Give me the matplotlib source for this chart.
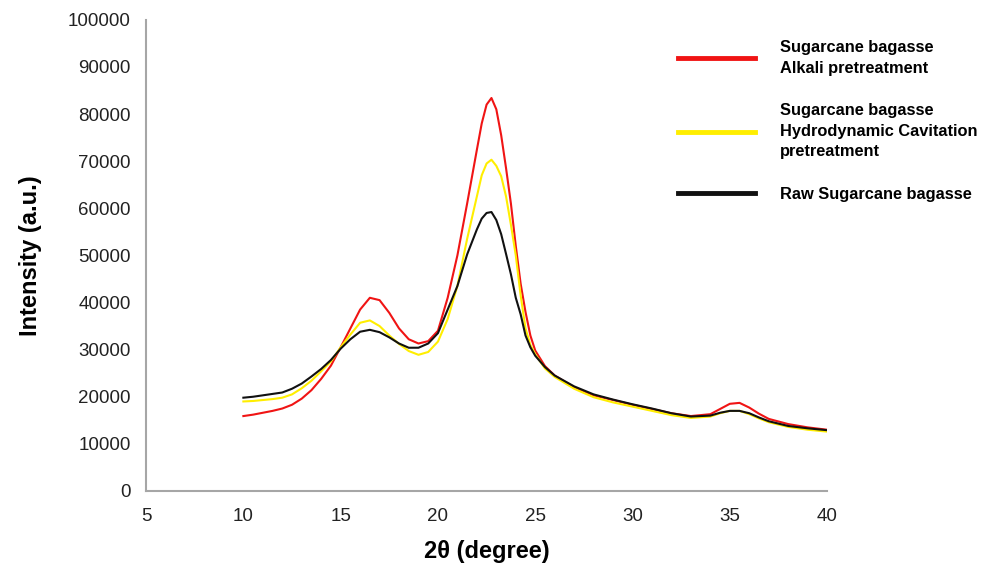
import matplotlib
matplotlib.use("Agg")
import matplotlib.pyplot as plt

# 2-theta positions (degrees) shared by all three diffractograms
two_theta = [10, 10.5, 11, 11.5, 12, 12.5, 13, 13.5, 14, 14.5, 15, 15.5, 16, 16.5,
             17, 17.5, 18, 18.5, 19, 19.5, 20, 20.5, 21, 21.5, 22, 22.25, 22.5,
             22.75, 23, 23.25, 23.5, 23.75, 24, 24.25, 24.5, 24.75, 25, 25.5, 26,
             27, 28, 29, 30, 31, 32, 33, 34, 34.5, 35, 35.5, 36, 36.5, 37, 38, 39, 40]

# Intensities (a.u.)
alkali = [15900, 16200, 16600, 17000, 17500, 18300, 19600, 21400, 23800, 26600,
          30500, 34500, 38500, 41000, 40500, 37800, 34500, 32200, 31300, 31800,
          34000, 41000, 50000, 61000, 72400, 78000, 82000, 83400, 81000, 75500,
          68500, 61000, 52000, 44000, 38000, 33000, 29800, 26500, 24500,
          22000, 20300, 19300, 18300, 17400, 16500, 15900, 16300, 17400, 18500,
          18700, 17700, 16400, 15300, 14200, 13500, 13000]

cavitation = [19000, 19100, 19300, 19500, 19800, 20500, 21800, 23400, 25400, 27500,
              30500, 33200, 35700, 36200, 35000, 33000, 31200, 29700, 28900, 29500,
              31700, 36500, 43500, 53500, 62500, 67000, 69500, 70300, 69000, 66800,
              62500, 56500, 50000, 41500, 34500, 31000, 29000, 26000, 24200,
              21700, 19900, 18800, 17900, 17000, 16100, 15500, 15800, 16500, 17000,
              17000, 16300, 15400, 14600, 13600, 13000, 12600]

raw = [19800, 20000, 20300, 20600, 20900, 21700, 22800, 24300, 25900, 27800,
       30200, 32200, 33800, 34200, 33700, 32600, 31300, 30400, 30400, 31300,
       33500, 38500, 43500, 50200, 55500, 57800, 59000, 59200, 57500, 54500,
       50300, 46000, 41000, 37500, 33000, 30500, 28700, 26300, 24500,
       22200, 20500, 19400, 18400, 17500, 16500, 15800, 16000, 16600, 17000,
       17000, 16500, 15600, 14800, 13800, 13300, 12900]

labels = ["Sugarcane bagasse\nAlkali pretreatment",
          "Sugarcane bagasse\nHydrodynamic Cavitation\npretreatment",
          "Raw Sugarcane bagasse"]
colors = ["#f01414", "#ffee00", "#111111"]

x_ticks = [5, 10, 15, 20, 25, 30, 35, 40]
y_ticks = list(range(0, 100001, 10000))

plt.rcParams["font.family"] = ["Liberation Sans", "DejaVu Sans"]

fig = plt.figure(figsize=(9.87, 5.65), dpi=100)
ax = fig.add_axes([0.148, 0.131, 0.69, 0.834])

for series, lab, col in zip([alkali, cavitation, raw], labels, colors):
    ax.plot(two_theta, series, color=col, lw=1.5, label=lab)

ax.set_xlim(5, 40)
ax.set_ylim(0, 100000)
ax.set_xticks(x_ticks)
ax.set_yticks(y_ticks)
ax.tick_params(axis="both", length=0, labelsize=13.5, colors="#222222")
ax.tick_params(axis="y", pad=11)
ax.tick_params(axis="x", pad=12)

for side in ("top", "right"):
    ax.spines[side].set_visible(False)
for side in ("left", "bottom"):
    ax.spines[side].set_color("#a6a6a6")
    ax.spines[side].set_linewidth(1.5)

ax.set_xlabel("2θ (degree)", fontsize=17, fontweight="bold", labelpad=11)
ax.set_ylabel("Intensity (a.u.)", fontsize=17, fontweight="bold", labelpad=19)

leg = ax.legend(loc="upper left", bbox_to_anchor=(0.672, 0.955),
                bbox_transform=fig.transFigure, frameon=False,
                prop={"weight": "bold", "size": 11.8},
                handlelength=4.7, handletextpad=1.5, labelspacing=1.7)
for line in leg.get_lines():
    line.set_linewidth(3.5)
for txt in leg.get_texts():
    txt.set_linespacing(1.45)

fig.savefig("out.png", dpi=100)
